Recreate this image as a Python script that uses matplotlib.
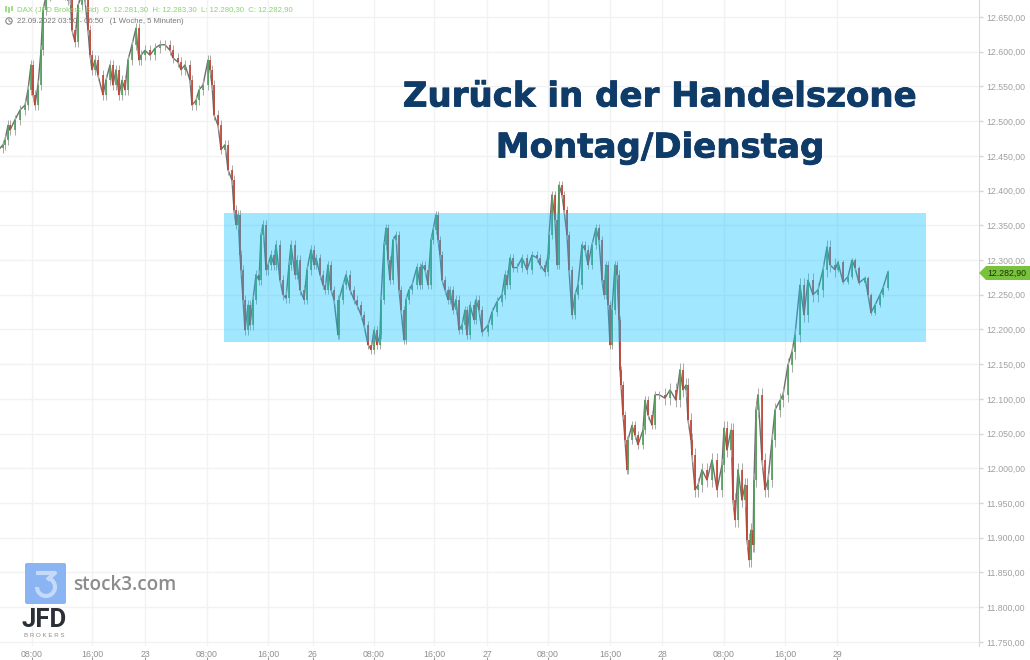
import matplotlib
matplotlib.use("Agg")
import matplotlib.pyplot as plt
import matplotlib.patheffects as pe
from matplotlib.patches import Arc, Circle, FancyBboxPatch, Polygon, Rectangle

plt.rcParams["font.family"] = ["Liberation Sans", "DejaVu Sans"]

# position along the time axis (1 slot is about 3 minutes of trading time)
slot = [0, 3, 5, 8, 10, 15, 20, 25, 28, 31, 33, 35, 38, 41, 43, 46, 50, 55, 60, 65, 68, 70, 72, 75, 78, 82, 85, 88, 90, 92,
        95, 98, 103, 106, 110, 113, 116, 119, 122, 125, 128, 132, 136, 139, 141, 145, 150, 155, 160, 165, 170, 173, 178,
        181, 185, 190, 192, 196, 199, 203, 208, 210, 212, 214, 218, 221, 225, 228, 232, 234, 236, 238, 240, 241, 243, 245,
        248, 250, 253, 256, 259, 261, 263, 266, 268, 271, 274, 276, 280, 283, 286, 289, 291, 295, 297, 300, 304, 307, 311,
        314, 316, 320, 323, 325, 328, 331, 334, 338, 339, 343, 346, 350, 354, 357, 361, 364, 368, 371, 374, 377, 380, 381,
        384, 386, 388, 390, 393, 396, 399, 401, 404, 406, 409, 412, 417, 420, 422, 425, 428, 431, 433, 436, 438, 440, 442,
        445, 448, 450, 453, 456, 459, 462, 465, 467, 470, 474, 476, 479, 482, 488, 492, 497, 502, 505, 507, 510, 513, 517,
        522, 527, 532, 537, 540, 545, 548, 549, 552, 555, 557, 559, 562, 564, 567, 569, 572, 575, 578, 582, 585, 588, 592,
        596, 599, 602, 604, 606, 608, 610, 612, 615, 617, 619, 620, 621, 623, 625, 627, 628, 632, 635, 638, 643, 645, 648,
        652, 655, 659, 665, 670, 676, 680, 683, 686, 688, 691, 692, 695, 698, 702, 707, 712, 717, 722, 724, 727, 731, 733,
        735, 738, 742, 745, 747, 749, 751, 753, 754, 756, 758, 762, 765, 768, 772, 775, 780, 783, 788, 792, 795, 800, 804,
        808, 813, 818, 823, 827, 830, 835, 838, 843, 848, 852, 855, 859, 865, 868, 871, 875, 880, 883, 888]

close = [12461, 12466, 12473, 12494, 12487, 12502, 12516, 12523, 12545, 12581, 12538, 12523, 12552, 12602, 12660, 12680,
         12689, 12696, 12689, 12682, 12674, 12682, 12631, 12614, 12667, 12682, 12674, 12631, 12595, 12574, 12588, 12566,
         12538, 12559, 12581, 12552, 12574, 12538, 12559, 12545, 12588, 12610, 12634, 12588, 12595, 12602, 12595, 12605,
         12610, 12610, 12602, 12591, 12585, 12574, 12581, 12559, 12523, 12530, 12545, 12552, 12588, 12574, 12552, 12509,
         12494, 12459, 12466, 12430, 12415, 12372, 12351, 12365, 12307, 12286, 12243, 12199, 12235, 12206, 12243, 12279,
         12271, 12336, 12351, 12286, 12293, 12307, 12293, 12322, 12271, 12250, 12245, 12293, 12322, 12279, 12300, 12257,
         12243, 12286, 12315, 12293, 12303, 12279, 12264, 12257, 12293, 12257, 12243, 12192, 12243, 12264, 12279, 12257,
         12243, 12235, 12221, 12206, 12178, 12171, 12199, 12178, 12192, 12243, 12322, 12346, 12300, 12271, 12329, 12336,
         12257, 12228, 12185, 12243, 12257, 12264, 12290, 12264, 12293, 12286, 12264, 12329, 12343, 12365, 12329, 12307,
         12271, 12257, 12243, 12257, 12228, 12243, 12199, 12206, 12228, 12192, 12235, 12214, 12243, 12228, 12196, 12206,
         12225, 12240, 12250, 12279, 12264, 12303, 12289, 12289, 12303, 12286, 12307, 12303, 12293, 12283, 12307, 12336,
         12394, 12358, 12293, 12408, 12394, 12372, 12336, 12286, 12221, 12250, 12264, 12322, 12315, 12293, 12322, 12346,
         12329, 12271, 12250, 12293, 12235, 12178, 12228, 12293, 12279, 12214, 12142, 12120, 12077, 12041, 11998, 12041,
         12062, 12048, 12034, 12055, 12098, 12077, 12062, 12106, 12106, 12101, 12113, 12098, 12142, 12113, 12120, 12070,
         12041, 12019, 11969, 11976, 11998, 11983, 12012, 11969, 12005, 12058, 12026, 12055, 11954, 11926, 11998, 11954,
         11976, 11897, 11868, 11911, 11890, 11983, 12084, 12106, 12012, 11969, 11983, 12041, 12084, 12098, 12106, 12149,
         12168, 12192, 12264, 12221, 12271, 12250, 12257, 12286, 12319, 12293, 12286, 12297, 12268, 12276, 12300, 12289,
         12267, 12274, 12250, 12224, 12235, 12250, 12260, 12283]

# typical wick length per trading day: (last slot, points)
wick_days = [(145, 7), (313, 7), (487, 6), (662, 6), (837, 10), (888, 3)]

tick_slots = [32, 92, 145, 207, 268, 313, 374, 434, 487, 548, 610, 662, 724, 785, 837]
tick_labels = ["08:00", "16:00", "23", "08:00", "16:00", "26", "08:00", "16:00", "27",
               "08:00", "16:00", "28", "08:00", "16:00", "29"]
price_levels = [12650, 12600, 12550, 12500, 12450, 12400, 12350, 12300, 12250, 12200,
                12150, 12100, 12050, 12000, 11950, 11900, 11850, 11800, 11750]
zone_low, zone_high = 12182, 12368
zone_start, zone_end = 224, 926
last_price = 12282.90


def german(v):
    return f"{v:,.2f}".replace(",", "#").replace(".", ",").replace("#", ".")


def wick_for(s):
    for last, w in wick_days:
        if s <= last:
            return w
    return wick_days[-1][1]


fig = plt.figure(figsize=(10.3, 6.6), dpi=100)
ax = fig.add_axes([0, 1 - 646 / 660, 979 / 1030, 646 / 660])
ax.set_xlim(0, 979)
ax.set_ylim(11744, 12674.5)

ax.set_axisbelow(True)
ax.set_yticks(price_levels)
ax.set_yticklabels([german(v) for v in price_levels])
ax.yaxis.tick_right()
ax.set_xticks(tick_slots)
ax.set_xticklabels(tick_labels)
ax.grid(True, color="#f2f2f2", lw=1)
ax.tick_params(axis="y", length=3, width=1, color="#d5d5d5", labelcolor="#a0a0a0", labelsize=6.3, pad=2.5)
ax.tick_params(axis="x", length=0, labelcolor="#8f8f8f", labelsize=6.3, pad=3)
for name, spine in ax.spines.items():
    spine.set_visible(name == "right")
ax.spines["right"].set_color("#d9d9d9")
ax.spines["right"].set_bounds(11744, 12674.5)

# small tick marks sit below the time labels
ax.vlines(tick_slots, -0.0217, -0.017, transform=ax.get_xaxis_transform(), color="#9a9a9a", lw=0.8, clip_on=False)

ax.plot(slot, close, color="#6f6f6f", lw=1.0, zorder=2)
for i in range(1, len(slot)):
    o, c = close[i - 1], close[i]
    w = wick_for(slot[i])
    ax.vlines(slot[i], min(o, c) - w, max(o, c) + w, color="#a8a8a8", lw=0.7, zorder=2)
    ax.vlines(slot[i], min(o, c), max(o, c), color="#4f9d57" if c >= o else "#c2402f", lw=1.2, zorder=3)

ax.add_patch(Rectangle((zone_start, zone_low), zone_end - zone_start, zone_high - zone_low,
                       facecolor="#00bfff", alpha=0.37, edgecolor="none", zorder=4))

# overlay in pixel units for the header, logos and the price tag
ov = fig.add_axes([0, 0, 1, 1], facecolor="none")
ov.set_xlim(0, 1030)
ov.set_ylim(660, 0)
ov.axis("off")

stroke = [pe.withStroke(linewidth=0.6, foreground="#0f3b68")]
ov.text(660, 97, "Zurück in der Handelszone", family="DejaVu Sans", weight="bold", fontsize=24.5,
        color="#0f3b68", ha="center", va="center", path_effects=stroke)
ov.text(660, 148, "Montag/Dienstag", family="DejaVu Sans", weight="bold", fontsize=24.5,
        color="#0f3b68", ha="center", va="center", path_effects=stroke)

ov.text(17, 10, "DAX (JFD Brokers, Bid)  O: 12.281,30  H: 12.283,30  L: 12.280,30  C: 12.282,90",
        fontsize=5.6, color="#86d46a", va="center")
ov.text(17, 21.5, "22.09.2022 03:50 - 06:50   (1 Woche, 5 Minuten)", fontsize=5.6, color="#777777", va="center")
ov.add_patch(Circle((9, 21), 3.2, fill=False, edgecolor="#777777", lw=0.7))
ov.plot([9, 9, 11], [19, 21, 22], color="#777777", lw=0.6)
ov.vlines([6, 9, 12], [6, 7, 6], [12, 13, 11], color="#86d46a", lw=1.1)

# price tag
ov.add_patch(Polygon([(979, 273), (986, 266), (1030, 266), (1030, 280), (986, 280)], closed=True,
                     facecolor="#79c23c", edgecolor="none"))
ov.text(987, 273, german(last_price), fontsize=6.3, color="#17330a", va="center")

# logos
ov.add_patch(FancyBboxPatch((27, 565), 37, 37, boxstyle="round,pad=2,rounding_size=2",
                            facecolor="#8ab4f2", edgecolor="none"))
ov.plot([36, 55, 47], [573, 573, 580], color="#c5daf9", lw=3, solid_capstyle="butt")
ov.add_patch(Arc((46, 587), 18, 18, theta1=-80, theta2=180, color="#c5daf9", lw=3))
ov.text(73, 584.5, "stock3.com", fontsize=13.6, weight="semibold", family="Open Sans", color="#8c8c8c", va="center")
ov.text(44, 620, "JFD", fontsize=18.5, weight="bold", family="Roboto", color="#2a3038", ha="center", va="center")
ov.text(44, 635.5, "B R O K E R S", fontsize=4.4, color="#8c8c8c", ha="center", va="center")

fig.savefig("out.png", dpi=100)
